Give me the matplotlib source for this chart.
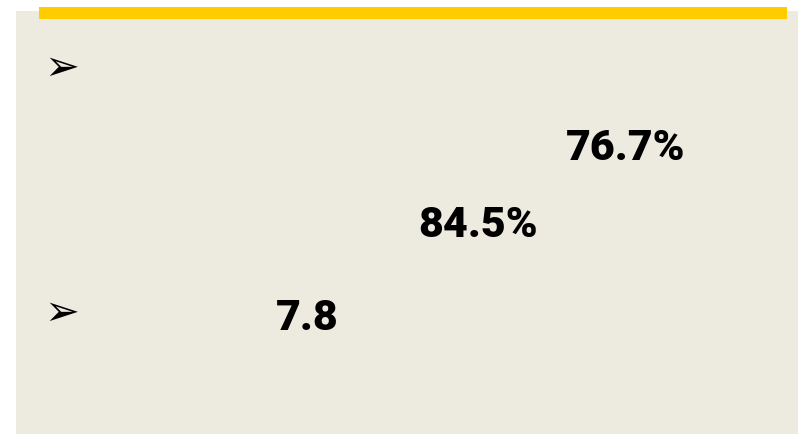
import matplotlib
matplotlib.use("Agg")
import matplotlib.pyplot as plt
from matplotlib.patches import Rectangle

# slide content
figures = ["76.7%", "84.5%", "7.8"]
figure_x = [566, 418, 276]
figure_base = [160, 237, 330]
bullet_y = [68, 313]

BEIGE = "#EDEAE0"
YELLOW = "#FFCC00"

fig = plt.figure(figsize=(7.98, 4.34), dpi=100)
ax = fig.add_axes([0, 0, 1, 1])
ax.set_xlim(0, 798)
ax.set_ylim(434, 0)
ax.axis("off")

# panel + top bar
ax.add_patch(Rectangle((16, 11), 782, 423, facecolor=BEIGE, edgecolor="none"))
ax.add_patch(Rectangle((39, 7), 748, 12, facecolor=YELLOW, edgecolor="none"))

for y in bullet_y:
    ax.text(62, y, "\u27a2", fontsize=30, family="DejaVu Sans",
            ha="center", va="center", color="black")

for txt, x, y in zip(figures, figure_x, figure_base):
    ax.text(x, y, txt, fontsize=31, family=["Roboto", "DejaVu Sans"],
            weight="heavy", ha="left", va="baseline", color="black")

fig.savefig("out.png", dpi=100)
